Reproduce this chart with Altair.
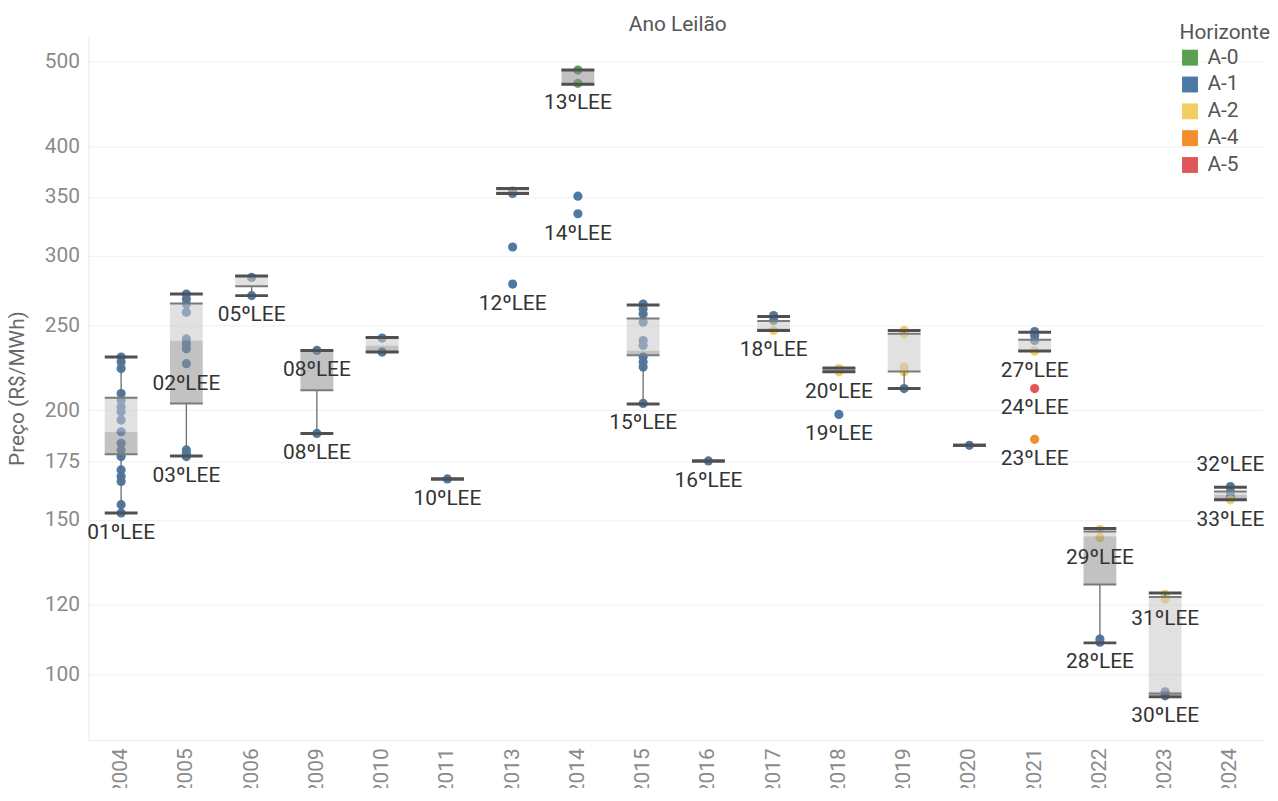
import altair as alt
import pandas as pd

# ---------------- data ----------------
years = ["2004", "2005", "2006", "2009", "2010", "2011", "2013", "2014", "2015",
         "2016", "2017", "2018", "2019", "2020", "2021", "2022", "2023", "2024"]

horizontes = ["A-0", "A-1", "A-2", "A-4", "A-5"]
horizonte_colors = ["#59a14f", "#4e79a7", "#f1ce63", "#f28e2b", "#e15759"]

# individual auction prices (R$/MWh)
point_year = (["2004"] * 17 + ["2005"] * 11 + ["2006"] * 2 + ["2009"] * 2 + ["2010"] * 2
              + ["2011"] + ["2013"] * 4 + ["2014"] * 4 + ["2015"] * 10 + ["2016"]
              + ["2017"] * 3 + ["2018"] * 3 + ["2019"] * 5 + ["2020"] + ["2021"] * 6
              + ["2022"] * 4 + ["2023"] * 4 + ["2024"] * 4)
point_horizonte = (["A-1"] * 17 + ["A-1"] * 11 + ["A-1"] * 2 + ["A-1"] * 2 + ["A-1"] * 2
                   + ["A-1"] + ["A-1"] * 4 + ["A-0", "A-0", "A-1", "A-1"] + ["A-1"] * 10 + ["A-1"]
                   + ["A-1", "A-1", "A-2"] + ["A-2", "A-2", "A-1"]
                   + ["A-2", "A-2", "A-2", "A-2", "A-1"] + ["A-1"]
                   + ["A-1", "A-1", "A-1", "A-2", "A-5", "A-4"]
                   + ["A-2", "A-2", "A-1", "A-1"] + ["A-2", "A-2", "A-1", "A-1"]
                   + ["A-1", "A-1", "A-1", "A-2"])
point_price = ([230.0, 227.0, 223.1, 209.0, 205.4, 201.8, 199.2, 194.9, 189.0, 183.4,
                180.2, 177.1, 171.0, 168.1, 165.9, 156.1, 152.7]
               + [271.3, 267.8, 264.3, 258.7, 241.2, 238.1, 235.0, 226.0, 180.2, 178.6, 177.1]
               + [283.4, 270.2]
               + [234.0, 188.2]
               + [241.7, 233.0]
               + [167.0]
               + [355.4, 353.3, 307.0, 278.5]
               + [488.4, 471.7, 350.8, 335.0]
               + [264.3, 260.9, 257.5, 252.0, 240.2, 237.1, 230.0, 227.0, 224.0, 203.6]
               + [175.1]
               + [256.4, 253.1, 246.6]
               + [223.1, 221.2, 197.8]
               + [246.6, 244.4, 224.0, 221.2, 211.7]
               + [182.4]
               + [245.9, 243.3, 240.2, 233.6, 211.7, 185.3]
               + [146.2, 143.1, 109.7, 108.8]
               + [123.4, 121.8, 95.5, 94.5]
               + [163.7, 161.6, 159.5, 158.1])

# box plot statistics per year
box_whisker_low = [152.7, 177.4, 270.2, 188.2, 233.0, 167.0, 353.3, 470.5, 203.3,
                   175.1, 246.6, 221.2, 211.7, 182.4, 233.6, 108.6, 94.3, 158.1]
box_q1 = [178.2, 203.6, 277.0, 210.8, 233.0, 167.0, 353.3, 470.5, 231.0,
          175.1, 246.6, 221.2, 221.4, 182.4, 233.6, 126.6, 95.0, 158.1]
box_median = [189.0, 240.2, 277.0, 234.0, 237.0, 167.0, 355.0, 488.4, 234.0,
              175.1, 248.0, 221.6, 221.4, 182.4, 233.6, 143.7, 95.6, 160.2]
box_q3 = [206.7, 264.6, 284.5, 234.0, 242.0, 167.0, 357.9, 488.4, 254.5,
          175.1, 252.8, 223.3, 244.5, 182.4, 240.6, 145.5, 122.5, 161.6]
box_whisker_high = [230.0, 271.3, 284.5, 234.0, 242.0, 167.0, 357.9, 488.4, 263.7,
                    175.1, 255.8, 223.5, 246.6, 182.4, 245.5, 146.6, 123.8, 163.4]

# auction labels, anchored at a price of that auction
label_year = ["2004", "2005", "2005", "2006", "2009", "2009", "2011", "2013", "2014", "2014",
              "2015", "2016", "2017", "2018", "2018", "2021", "2021", "2021", "2022", "2022",
              "2023", "2023", "2024", "2024"]
label_text = ["01ºLEE", "02ºLEE", "03ºLEE", "05ºLEE", "08ºLEE", "08ºLEE", "10ºLEE", "12ºLEE",
              "13ºLEE", "14ºLEE", "15ºLEE", "16ºLEE", "18ºLEE", "20ºLEE", "19ºLEE", "27ºLEE",
              "24ºLEE", "23ºLEE", "29ºLEE", "28ºLEE", "31ºLEE", "30ºLEE", "32ºLEE", "33ºLEE"]
label_price = [152.7, 226.0, 177.1, 270.2, 234.0, 188.2, 167.0, 278.5, 471.7, 335.0,
               203.6, 175.1, 246.6, 221.2, 197.8, 233.6, 211.7, 185.3, 143.1, 108.8,
               121.8, 94.5, 163.7, 158.1]
label_above = ["32ºLEE"]

y_ticks = [100, 120, 150, 175, 200, 250, 300, 350, 400, 500]
chart_title = ["Ano Leilão"]

# ---------------- tables ----------------
points = pd.DataFrame({"Ano": point_year, "Horizonte": point_horizonte, "Preco": point_price})
boxes = pd.DataFrame({"Ano": years, "wlow": box_whisker_low, "q1": box_q1,
                      "median": box_median, "q3": box_q3, "whigh": box_whisker_high})
labels = pd.DataFrame({"Ano": label_year, "Label": label_text, "Preco": label_price})
labels["above"] = labels["Label"].isin(label_above)
title_df = pd.DataFrame({"t": chart_title})

FONT = "Roboto"
FS = 21
Y_TITLE = "Preço (R$/MWh)"
x_scale = alt.Scale(type="band", domain=years, paddingInner=0, paddingOuter=0)
y_scale = alt.Scale(type="log", domain=[84.2, 533.7], nice=False, zero=False)
x_axis = alt.Axis(labelAngle=-90, labelFontSize=FS, labelColor="#8a8a8a", labelFont=FONT,
                  labelPadding=8, ticks=False, domainColor="#e8e8e8", grid=False,
                  labelBaseline="middle", labelAlign="right")
y_axis = alt.Axis(values=y_ticks, labelFontSize=FS, labelColor="#8a8a8a", labelFont=FONT,
                  labelPadding=9, ticks=False, domainColor="#e8e8e8", gridColor="#f0f0f0",
                  titleFontSize=FS, titleColor="#6a6a6a", titleFont=FONT, titleFontWeight="normal",
                  titleAngle=270, titleX=-71, titleY=354, titleAlign="center",
                  titleBaseline="middle")


def X():
    return alt.X("Ano:N", scale=x_scale, axis=x_axis, title=None)


def Y(field):
    return alt.Y(field, scale=y_scale, axis=y_axis, title=Y_TITLE)


BOXW = 33

pts = alt.Chart(points).mark_circle(size=85, opacity=1).encode(
    x=X(), y=Y("Preco:Q"),
    color=alt.Color("Horizonte:N",
                    scale=alt.Scale(domain=horizontes, range=horizonte_colors),
                    legend=alt.Legend(orient="none", legendX=1098, legendY=-14,
                                      title="Horizonte", titleFontSize=FS, titleColor="#555555",
                                      titleFont=FONT, titleFontWeight="normal",
                                      labelFontSize=FS, labelColor="#555555", labelFont=FONT,
                                      symbolType="square", symbolSize=256, symbolStrokeWidth=0,
                                      symbolOpacity=1, rowPadding=5, titlePadding=4,
                                      labelOffset=7)),
)

box_dark = alt.Chart(boxes).mark_bar(size=BOXW, color="#8f8f8f", opacity=0.55).encode(
    x=X(), y=Y("q1:Q"), y2="median:Q")
box_light = alt.Chart(boxes).mark_bar(size=BOXW, color="#c8c8c8", opacity=0.55).encode(
    x=X(), y=Y("median:Q"), y2="q3:Q")

whisk_lo = alt.Chart(boxes).mark_rule(color="#6b6b6b", strokeWidth=1.3).encode(
    x=X(), y=Y("wlow:Q"), y2="q1:Q")
whisk_hi = alt.Chart(boxes).mark_rule(color="#6b6b6b", strokeWidth=1.3).encode(
    x=X(), y=Y("q3:Q"), y2="whigh:Q")

hinge_q1 = alt.Chart(boxes).mark_tick(size=BOXW, thickness=2, color="#7a7a7a", opacity=1).encode(
    x=X(), y=Y("q1:Q"))
hinge_q3 = alt.Chart(boxes).mark_tick(size=BOXW, thickness=2, color="#7a7a7a", opacity=1).encode(
    x=X(), y=Y("q3:Q"))
cap_lo = alt.Chart(boxes).mark_tick(size=BOXW, thickness=3, color="#505050", opacity=1).encode(
    x=X(), y=Y("wlow:Q"))
cap_hi = alt.Chart(boxes).mark_tick(size=BOXW, thickness=3, color="#505050", opacity=1).encode(
    x=X(), y=Y("whigh:Q"))

lab_below = alt.Chart(labels).transform_filter("!datum.above").mark_text(
    font=FONT, fontSize=FS, color="#333333", baseline="middle", dy=20).encode(
    x=X(), y=Y("Preco:Q"), text="Label:N")
lab_above = alt.Chart(labels).transform_filter("datum.above").mark_text(
    font=FONT, fontSize=FS, color="#333333", baseline="middle", dy=-22).encode(
    x=X(), y=Y("Preco:Q"), text="Label:N")

top_title = alt.Chart(title_df).mark_text(
    font=FONT, fontSize=FS, color="#555555", baseline="middle", align="center").encode(
    text="t:N", x=alt.value(593), y=alt.value(-11))

chart = alt.layer(
    pts, box_dark, box_light, whisk_lo, whisk_hi, hinge_q1, hinge_q3, cap_lo, cap_hi,
    lab_below, lab_above, top_title
).properties(
    width=1182, height=708,
    autosize=alt.AutoSizeParams(type="none"),
    padding={"left": 81, "top": 26, "right": 7, "bottom": 46},
).configure_view(stroke=None)

chart.save("out.html", embed_options={"renderer": "svg", "actions": False})
